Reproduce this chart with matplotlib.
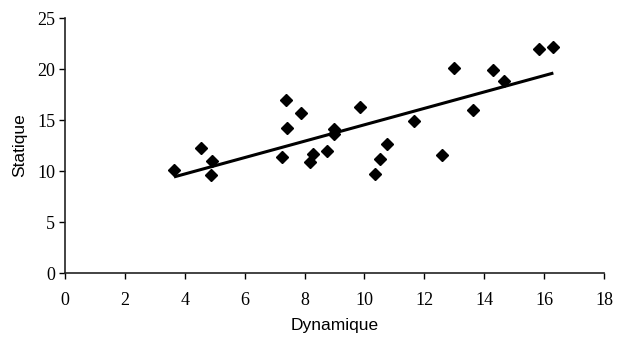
import numpy as np
import matplotlib.pyplot as plt

# values
dynamique = [3.64, 4.53, 4.92, 4.89, 7.25, 7.37, 7.43, 7.87, 8.18, 8.29,
             8.74, 8.99, 8.99, 9.85, 10.35, 10.52, 10.74, 11.67, 12.60,
             12.99, 13.63, 14.28, 14.65, 15.84, 16.31]
statique = [10.1, 12.3, 11.0, 9.6, 11.4, 17.0, 14.2, 15.7, 10.85, 11.7,
            12.0, 14.1, 13.6, 16.3, 9.74, 11.2, 12.65, 14.9, 11.6,
            20.1, 16.0, 19.9, 18.8, 21.96, 22.2]
x_ticks = list(range(0, 19, 2))
y_ticks = list(range(0, 26, 5))

serif = ["Liberation Serif", "DejaVu Serif"]
sans = ["Liberation Sans", "DejaVu Sans"]

fig = plt.figure(figsize=(6.22, 3.38), dpi=100)
ax = fig.add_axes([0.1045, 0.1923, 0.8665, 0.7544])

x = np.array(dynamique)
y = np.array(statique)
slope, intercept = np.polyfit(x, y, 1)
xs = np.array([x.min(), x.max()])
ax.plot(xs, slope * xs + intercept, color="black", linewidth=2.2,
        solid_capstyle="butt", zorder=2)
ax.plot(x, y, linestyle="none", marker="D", markersize=6.5,
        color="black", zorder=3)

ax.set_xlim(0, 18)
ax.set_ylim(0, 25)
ax.set_xticks(x_ticks)
ax.set_yticks(y_ticks)
ax.set_xticklabels([str(t) for t in x_ticks], family=serif, fontsize=13)
ax.set_yticklabels([str(t) for t in y_ticks], family=serif, fontsize=13)
ax.tick_params(direction="out", length=4, width=1.0, color="black")
ax.tick_params(axis="x", pad=10)
ax.tick_params(axis="y", pad=3)

for side in ("top", "right"):
    ax.spines[side].set_visible(False)
for side in ("left", "bottom"):
    ax.spines[side].set_linewidth(1.2)
    ax.spines[side].set_color("#222222")

ax.set_xlabel("Dynamique", family=sans, fontsize=12.5, labelpad=6)
ax.set_ylabel("Statique", family=sans, fontsize=12.5, labelpad=7)

fig.savefig("out.png", dpi=100)
